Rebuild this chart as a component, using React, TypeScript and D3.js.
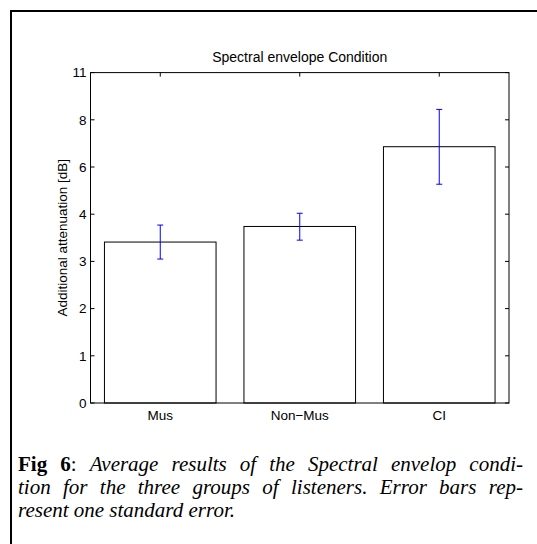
import { useEffect, useRef } from "react";
import * as d3 from "d3";

const categories = ["Mus", "Non\u2212Mus", "CI"];
const means = [3.41, 3.74, 6.86];
const errLow = [3.05, 3.45, 5.27];
const errHigh = [3.77, 4.04, 8.66];
// the axis has evenly spaced but unevenly valued labels
const yTickValues = [0, 1, 2, 3, 4, 6, 8, 11];

const W = 537;
const H = 544;
const PLOT = { left: 90.5, right: 509, top: 72.6, bottom: 403 };
const TICK = 4;
const CAPTION_X = 18;
const CAPTION_W = 505;

const captionLines = [
  { bold: "Fig 6", rest: "Average results of the Spectral envelop condi-", justify: true },
  { bold: "", rest: "tion for the three groups of listeners. Error bars rep-", justify: true },
  { bold: "", rest: "resent one standard error.", justify: false },
];

export default function App() {
  const captionRef = useRef<SVGGElement>(null);

  // justify caption lines by stretching word spacing
  useEffect(() => {
    if (!captionRef.current) return;
    d3.select(captionRef.current)
      .selectAll<SVGTextElement, unknown>("text")
      .each(function (_, i) {
        if (!captionLines[i].justify) return;
        const natural = this.getComputedTextLength();
        const full = (captionLines[i].bold ? captionLines[i].bold + ": " : "") + captionLines[i].rest;
        const spaces = full.split(" ").length - 1;
        d3.select(this).attr("word-spacing", Math.max(0, (CAPTION_W - natural) / spaces));
      });
  }, []);

  const x = d3
    .scaleBand<string>()
    .domain(categories)
    .range([PLOT.left, PLOT.right])
    .paddingInner(0.2)
    .paddingOuter(0.1);
  const center = (c: string) => (x(c) ?? 0) + x.bandwidth() / 2;

  const y = d3
    .scaleLinear()
    .domain(yTickValues)
    .range(
      yTickValues.map(
        (_, i) => PLOT.bottom - (i * (PLOT.bottom - PLOT.top)) / (yTickValues.length - 1)
      )
    );

  const axisFont = "'Liberation Sans', Arial, Helvetica, sans-serif";
  const serif = "'Liberation Serif', 'Times New Roman', serif";
  const capW = 3;

  return (
    <svg
      width={W}
      height={H}
      style={{ position: "absolute", left: 0, top: 0, background: "white" }}
    >
      {/* figure frame */}
      <rect x={11} y={11} width={560} height={560} fill="none" stroke="#000" strokeWidth={2} />

      {/* bars */}
      {categories.map((c, i) => (
        <rect
          key={c}
          x={x(c)}
          y={y(means[i])}
          width={x.bandwidth()}
          height={y(0) - y(means[i])}
          fill="#fff"
          stroke="#000"
          strokeWidth={1}
        />
      ))}

      {/* error bars */}
      {categories.map((c, i) => {
        const cx = center(c);
        return (
          <g key={c} stroke="#0000ff" strokeWidth={1}>
            <line x1={cx} x2={cx} y1={y(errLow[i])} y2={y(errHigh[i])} />
            <line x1={cx - capW} x2={cx + capW} y1={y(errLow[i])} y2={y(errLow[i])} />
            <line x1={cx - capW} x2={cx + capW} y1={y(errHigh[i])} y2={y(errHigh[i])} />
          </g>
        );
      })}

      {/* axes box */}
      <rect
        x={PLOT.left}
        y={PLOT.top}
        width={PLOT.right - PLOT.left}
        height={PLOT.bottom - PLOT.top}
        fill="none"
        stroke="#000"
        strokeWidth={1}
      />

      {/* y ticks, both sides, pointing in */}
      {yTickValues.map((v) => (
        <g key={v} stroke="#000" strokeWidth={1}>
          <line x1={PLOT.left} x2={PLOT.left + TICK} y1={y(v)} y2={y(v)} />
          <line x1={PLOT.right} x2={PLOT.right - TICK} y1={y(v)} y2={y(v)} />
        </g>
      ))}
      {yTickValues.map((v) => (
        <text
          key={v}
          x={PLOT.left - 4}
          y={y(v)}
          dy="0.36em"
          textAnchor="end"
          fontFamily={axisFont}
          fontSize={13.5}
        >
          {v}
        </text>
      ))}

      {/* x ticks on top */}
      {categories.map((c) => (
        <line
          key={c}
          x1={center(c)}
          x2={center(c)}
          y1={PLOT.top}
          y2={PLOT.top + TICK}
          stroke="#000"
        />
      ))}
      {categories.map((c) => (
        <text
          key={c}
          x={center(c)}
          y={PLOT.bottom + 17}
          textAnchor="middle"
          fontFamily={axisFont}
          fontSize={13.5}
        >
          {c}
        </text>
      ))}

      {/* title and y label */}
      <text
        x={(PLOT.left + PLOT.right) / 2}
        y={PLOT.top - 11}
        textAnchor="middle"
        fontFamily={axisFont}
        fontSize={14}
      >
        Spectral envelope Condition
      </text>
      <text
        transform={`translate(${PLOT.left - 24},${(PLOT.top + PLOT.bottom) / 2}) rotate(-90)`}
        textAnchor="middle"
        fontFamily={axisFont}
        fontSize={13.5}
      >
        Additional attenuation [dB]
      </text>

      {/* caption */}
      <g ref={captionRef}>
        {captionLines.map((l, i) => (
          <text key={i} x={CAPTION_X} y={471 + i * 23} fontFamily={serif} fontSize={21}>
            {l.bold && <tspan fontWeight="bold">{l.bold}</tspan>}
            {l.bold && <tspan>: </tspan>}
            <tspan fontStyle="italic">{l.rest}</tspan>
          </text>
        ))}
      </g>
    </svg>
  );
}
